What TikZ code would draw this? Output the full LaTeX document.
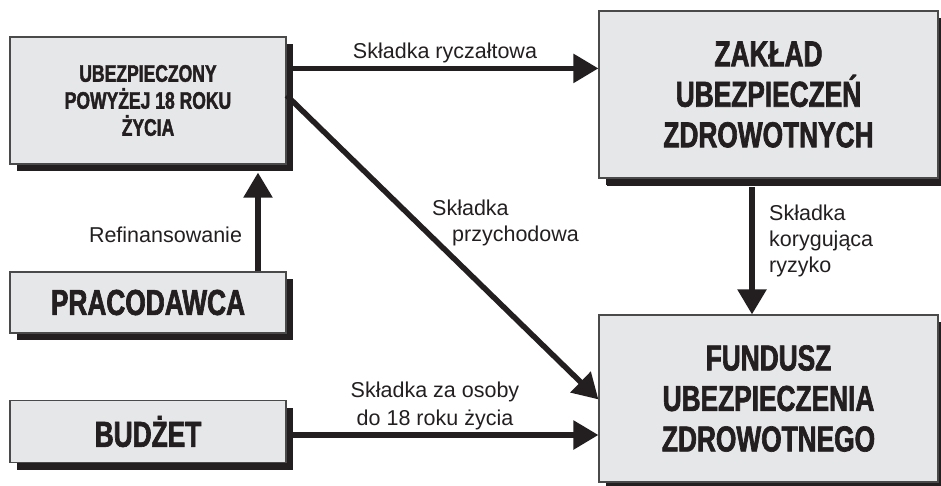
\documentclass[tikz,border=0pt]{standalone}
\usepackage{fontspec}
\setmainfont{Liberation Sans}
\newfontfamily\boxfont[FakeStretch=0.73,BoldFeatures={FakeBold=1.8}]{Liberation Sans}
\usetikzlibrary{arrows.meta,shadows}
\definecolor{ink}{HTML}{231F20}
\definecolor{boxfill}{HTML}{E6E7E9}
\definecolor{boxline}{HTML}{4A4A4A}
\begin{document}
\begin{tikzpicture}[x=1pt,y=-1pt,
  box/.style={draw=boxline, line width=1.2pt, fill=boxfill, inner sep=0pt,
    align=center, text=ink,
    drop shadow={shadow xshift=7pt, shadow yshift=-7pt, opacity=1, fill=ink}},
  bigbox/.style={box, drop shadow={shadow xshift=8pt, shadow yshift=-8pt, opacity=1, fill=ink},
    font=\boxfont\bfseries\fontsize{36}{40.5}\selectfont},
  smallfont/.style={font=\boxfont\bfseries\fontsize{24}{27}\selectfont},
  namefont/.style={font=\boxfont\bfseries\fontsize{36}{40}\selectfont},
  flow/.style={line width=5.5pt, draw=ink, -{Triangle[length=25pt,width=28pt]}},
  lab/.style={font=\fontsize{21.5}{27}\selectfont, text=ink, inner sep=0pt, anchor=base}]

\useasboundingbox (0,0) rectangle (941,485);

% boxes
\node[box, smallfont, minimum width=276pt, minimum height=127pt] (ubez) at (148,100.5)
  {UBEZPIECZONY\\POWYŻEJ 18 ROKU\\ŻYCIA};
\node[box, namefont, minimum width=276pt, minimum height=61pt] (prac) at (148,302.5) {PRACODAWCA};
\node[box, namefont, minimum width=276pt, minimum height=62pt] (budz) at (148,431.5) {BUDŻET};
\node[bigbox, minimum width=339pt, minimum height=167pt] (zakl) at (768.5,94.5)
  {ZAKŁAD\\UBEZPIECZEŃ\\ZDROWOTNYCH};
\node[bigbox, minimum width=339pt, minimum height=167pt] (fund) at (768.5,398.5)
  {FUNDUSZ\\UBEZPIECZENIA\\ZDROWOTNEGO};

% connectors
\draw[flow] ([yshift=-32pt]ubez.north east) -- ([yshift=-58pt]zakl.north west);
\draw[flow] ([xshift=110pt]prac.north) -- ([xshift=110pt,yshift=-8pt]ubez.south);
\draw[flow] ([xshift=-16.5pt,yshift=-8.5pt]zakl.south) -- ([xshift=-16.5pt]fund.north);
\draw[flow] ([yshift=-59pt]ubez.north east) -- ([yshift=-85pt]fund.north west);
\draw[flow] ([yshift=-3.5pt]budz.east) -- ([yshift=-36.5pt]fund.west);

% labels
\node[lab] (lryc) at (445,58) {Składka ryczałtowa};
\node[lab] (lref) at (165.5,242) {Refinansowanie};
\node[lab, anchor=base west] (lprz1) at (432,215) {Składka};
\node[lab, anchor=base west] (lprz2) at (452,241) {przychodowa};
\node[lab, anchor=base west] (lkor1) at (769,220) {Składka};
\node[lab, anchor=base west] (lkor2) at (769,246) {korygująca};
\node[lab, anchor=base west] (lkor3) at (769,272) {ryzyko};
\node[lab] (lbud1) at (435,397) {Składka za osoby};
\node[lab] (lbud2) at (435,425) {do 18 roku życia};
\end{tikzpicture}
\end{document}
